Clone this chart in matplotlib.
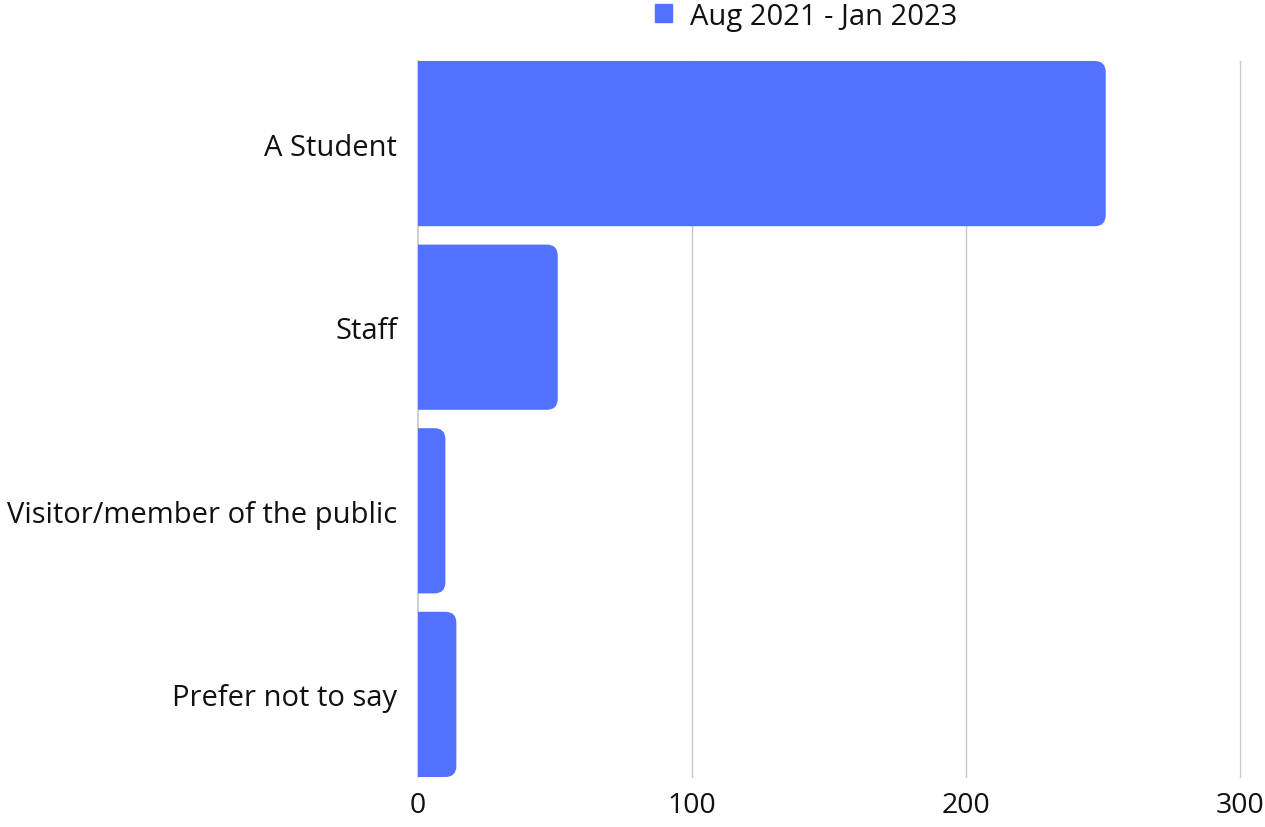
import numpy as np
import matplotlib.pyplot as plt
from matplotlib.patches import FancyBboxPatch

categories = ['A Student', 'Staff', 'Visitor/member of the public', 'Prefer not to say']
counts = [251, 51, 10, 14]
series_label = 'Aug 2021 - Jan 2023'
x_ticks = [0, 100, 200, 300]

BLUE = '#5271ff'
GRID = '#c8c8c8'

plt.rcParams['font.family'] = ['Open Sans', 'DejaVu Sans']

fig = plt.figure(figsize=(12.65, 8.28), dpi=100)
ax = fig.add_axes([418 / 1265, 1 - 778 / 828, (1240 - 418) / 1265, (778 - 62) / 828])

y = np.arange(len(categories))
bars = ax.barh(y, counts, height=0.9, color=BLUE, label=series_label)
ax.set_xlim(0, 300)
ax.set_ylim(len(categories) - 0.55, -0.45)

# swap plain rectangles for ones with rounded right-hand corners
fig.canvas.draw()
px_per_x = ax.transData.transform((1, 0))[0] - ax.transData.transform((0, 0))[0]
px_per_y = abs(ax.transData.transform((0, 1))[1] - ax.transData.transform((0, 0))[1])
radius_px = 11
for rect in bars.patches:
    x0, y0 = rect.get_x(), rect.get_y()
    w, h = rect.get_width(), rect.get_height()
    rect.set_visible(False)
    r = radius_px / px_per_x
    patch = FancyBboxPatch((x0 - 10, y0), w + 10, h,
                           boxstyle=f'round,pad=0,rounding_size={r}',
                           mutation_aspect=px_per_x / px_per_y,
                           facecolor=BLUE, edgecolor='none', zorder=3)
    ax.add_patch(patch)

ax.set_xticks(x_ticks)
ax.set_yticks(y)
ax.set_yticklabels(categories)
ax.tick_params(axis='both', length=0, colors='#111111')
ax.tick_params(axis='y', pad=15, labelsize=21)
ax.tick_params(axis='x', pad=10, labelsize=20.5)

# vertical gridlines, including the one sitting on the right edge
for xv in x_ticks[1:]:
    ax.axvline(xv, color=GRID, linewidth=1, zorder=0, clip_on=False)
for side in ['top', 'right', 'bottom']:
    ax.spines[side].set_visible(False)
ax.spines['left'].set_color(GRID)
ax.spines['left'].set_linewidth(1.2)

handle = plt.Rectangle((0, 0), 1, 1, color=BLUE)
fig.legend([handle], [series_label], loc='center', bbox_to_anchor=(806 / 1265, 1 - 17 / 828),
           frameon=False, fontsize=21, handlelength=0.6, handleheight=0.6,
           handletextpad=0.6, labelcolor='#111111', borderpad=0)

fig.savefig('out.png', dpi=100)
